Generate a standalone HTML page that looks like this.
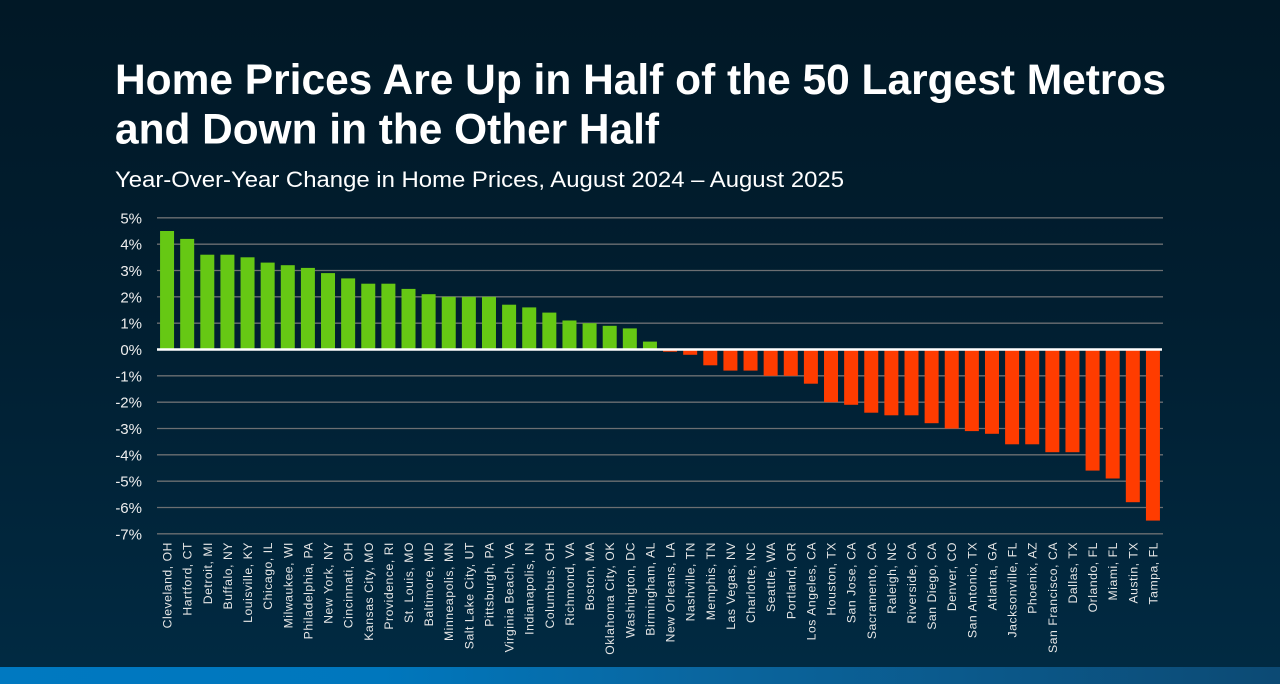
<!DOCTYPE html>
<html><head><meta charset="utf-8"><style>
html,body{margin:0;padding:0;background:#011826;}
svg{display:block;}
text{font-family:"Liberation Sans",Arial,sans-serif;}
</style></head><body>
<svg width="1280" height="684" viewBox="0 0 1280 684" xmlns="http://www.w3.org/2000/svg">
<defs>
<linearGradient id="bg" x1="0" y1="0" x2="0" y2="1">
<stop offset="0" stop-color="#011826"/><stop offset="0.45" stop-color="#011e30"/><stop offset="1" stop-color="#012a42"/>
</linearGradient>
<linearGradient id="st" x1="0" y1="0" x2="1" y2="0">
<stop offset="0" stop-color="#0079c1"/><stop offset="0.3" stop-color="#0077bd"/><stop offset="0.55" stop-color="#0a669f"/><stop offset="1" stop-color="#0c4a74"/>
</linearGradient>
</defs>
<rect x="0" y="0" width="1280" height="667" fill="url(#bg)"/>
<rect x="0" y="667" width="1280" height="17" fill="url(#st)"/>

<text x="115" y="94" font-size="42.4" font-weight="bold" fill="#ffffff" textLength="1051" lengthAdjust="spacingAndGlyphs">Home Prices Are Up in Half of the 50 Largest Metros</text>
<text x="115" y="143.5" font-size="42.4" font-weight="bold" fill="#ffffff">and Down in the Other Half</text>
<text x="115" y="187" font-size="22" fill="#ffffff" textLength="729" lengthAdjust="spacingAndGlyphs">Year-Over-Year Change in Home Prices, August 2024 – August 2025</text>

<g stroke="#6c6f72" stroke-width="1.3">
<line x1="157" x2="1163" y1="217.8" y2="217.8"/>
<line x1="157" x2="1163" y1="244.2" y2="244.2"/>
<line x1="157" x2="1163" y1="270.5" y2="270.5"/>
<line x1="157" x2="1163" y1="296.8" y2="296.8"/>
<line x1="157" x2="1163" y1="323.2" y2="323.2"/>
<line x1="157" x2="1163" y1="375.8" y2="375.8"/>
<line x1="157" x2="1163" y1="402.2" y2="402.2"/>
<line x1="157" x2="1163" y1="428.5" y2="428.5"/>
<line x1="157" x2="1163" y1="454.8" y2="454.8"/>
<line x1="157" x2="1163" y1="481.2" y2="481.2"/>
<line x1="157" x2="1163" y1="507.5" y2="507.5"/>
<line x1="157" x2="1163" y1="533.8" y2="533.8"/>
</g>

<g font-size="15" fill="#eeeeee" text-anchor="end">
<text x="142" y="223.3">5%</text>
<text x="142" y="249.7">4%</text>
<text x="142" y="276">3%</text>
<text x="142" y="302.3">2%</text>
<text x="142" y="328.7">1%</text>
<text x="142" y="355">0%</text>
<text x="142" y="381.3">-1%</text>
<text x="142" y="407.7">-2%</text>
<text x="142" y="434">-3%</text>
<text x="142" y="460.3">-4%</text>
<text x="142" y="486.7">-5%</text>
<text x="142" y="513">-6%</text>
<text x="142" y="539.3">-7%</text>
</g>

<g fill="#66c814">
<rect x="160.06" y="231.0" width="14" height="118.5"/>
<rect x="180.18" y="238.9" width="14" height="110.6"/>
<rect x="200.30" y="254.7" width="14" height="94.8"/>
<rect x="220.42" y="254.7" width="14" height="94.8"/>
<rect x="240.54" y="257.3" width="14" height="92.2"/>
<rect x="260.66" y="262.6" width="14" height="86.9"/>
<rect x="280.78" y="265.2" width="14" height="84.3"/>
<rect x="300.90" y="267.9" width="14" height="81.6"/>
<rect x="321.02" y="273.1" width="14" height="76.4"/>
<rect x="341.14" y="278.4" width="14" height="71.1"/>
<rect x="361.26" y="283.7" width="14" height="65.8"/>
<rect x="381.38" y="283.7" width="14" height="65.8"/>
<rect x="401.50" y="288.9" width="14" height="60.6"/>
<rect x="421.62" y="294.2" width="14" height="55.3"/>
<rect x="441.74" y="296.8" width="14" height="52.7"/>
<rect x="461.86" y="296.8" width="14" height="52.7"/>
<rect x="481.98" y="296.8" width="14" height="52.7"/>
<rect x="502.10" y="304.7" width="14" height="44.8"/>
<rect x="522.22" y="307.4" width="14" height="42.1"/>
<rect x="542.34" y="312.6" width="14" height="36.9"/>
<rect x="562.46" y="320.5" width="14" height="29.0"/>
<rect x="582.58" y="323.2" width="14" height="26.3"/>
<rect x="602.70" y="325.8" width="14" height="23.7"/>
<rect x="622.82" y="328.4" width="14" height="21.1"/>
<rect x="642.94" y="341.6" width="14" height="7.9"/>
</g>
<g fill="#ff3c00">
<rect x="663.06" y="349.5" width="14" height="2.2"/>
<rect x="683.18" y="349.5" width="14" height="5.3"/>
<rect x="703.30" y="349.5" width="14" height="15.8"/>
<rect x="723.42" y="349.5" width="14" height="21.1"/>
<rect x="743.54" y="349.5" width="14" height="21.1"/>
<rect x="763.66" y="349.5" width="14" height="26.3"/>
<rect x="783.78" y="349.5" width="14" height="26.3"/>
<rect x="803.90" y="349.5" width="14" height="34.2"/>
<rect x="824.02" y="349.5" width="14" height="52.7"/>
<rect x="844.14" y="349.5" width="14" height="55.3"/>
<rect x="864.26" y="349.5" width="14" height="63.2"/>
<rect x="884.38" y="349.5" width="14" height="65.8"/>
<rect x="904.50" y="349.5" width="14" height="65.8"/>
<rect x="924.62" y="349.5" width="14" height="73.7"/>
<rect x="944.74" y="349.5" width="14" height="79.0"/>
<rect x="964.86" y="349.5" width="14" height="81.6"/>
<rect x="984.98" y="349.5" width="14" height="84.3"/>
<rect x="1005.10" y="349.5" width="14" height="94.8"/>
<rect x="1025.22" y="349.5" width="14" height="94.8"/>
<rect x="1045.34" y="349.5" width="14" height="102.7"/>
<rect x="1065.46" y="349.5" width="14" height="102.7"/>
<rect x="1085.58" y="349.5" width="14" height="121.1"/>
<rect x="1105.70" y="349.5" width="14" height="129.0"/>
<rect x="1125.82" y="349.5" width="14" height="152.7"/>
<rect x="1145.94" y="349.5" width="14" height="171.1"/>
</g>
<line x1="157" x2="1162" y1="349.5" y2="349.5" stroke="#ffffff" stroke-width="2.6"/>

<g font-size="12.2" fill="#e6e6e6" text-anchor="end" letter-spacing="0.55">
<text transform="translate(171.6,542) rotate(-90)">Cleveland, OH</text>
<text transform="translate(191.7,542) rotate(-90)">Hartford, CT</text>
<text transform="translate(211.8,542) rotate(-90)">Detroit, MI</text>
<text transform="translate(231.9,542) rotate(-90)">Buffalo, NY</text>
<text transform="translate(252.0,542) rotate(-90)">Louisville, KY</text>
<text transform="translate(272.2,542) rotate(-90)">Chicago, IL</text>
<text transform="translate(292.3,542) rotate(-90)">Milwaukee, WI</text>
<text transform="translate(312.4,542) rotate(-90)">Philadelphia, PA</text>
<text transform="translate(332.5,542) rotate(-90)">New York, NY</text>
<text transform="translate(352.6,542) rotate(-90)">Cincinnati, OH</text>
<text transform="translate(372.8,542) rotate(-90)">Kansas City, MO</text>
<text transform="translate(392.9,542) rotate(-90)">Providence, RI</text>
<text transform="translate(413.0,542) rotate(-90)">St. Louis, MO</text>
<text transform="translate(433.1,542) rotate(-90)">Baltimore, MD</text>
<text transform="translate(453.2,542) rotate(-90)">Minneapolis, MN</text>
<text transform="translate(473.4,542) rotate(-90)">Salt Lake City, UT</text>
<text transform="translate(493.5,542) rotate(-90)">Pittsburgh, PA</text>
<text transform="translate(513.6,542) rotate(-90)">Virginia Beach, VA</text>
<text transform="translate(533.7,542) rotate(-90)">Indianapolis, IN</text>
<text transform="translate(553.8,542) rotate(-90)">Columbus, OH</text>
<text transform="translate(574.0,542) rotate(-90)">Richmond, VA</text>
<text transform="translate(594.1,542) rotate(-90)">Boston, MA</text>
<text transform="translate(614.2,542) rotate(-90)">Oklahoma City, OK</text>
<text transform="translate(634.3,542) rotate(-90)">Washington, DC</text>
<text transform="translate(654.4,542) rotate(-90)">Birmingham, AL</text>
<text transform="translate(674.6,542) rotate(-90)">New Orleans, LA</text>
<text transform="translate(694.7,542) rotate(-90)">Nashville, TN</text>
<text transform="translate(714.8,542) rotate(-90)">Memphis, TN</text>
<text transform="translate(734.9,542) rotate(-90)">Las Vegas, NV</text>
<text transform="translate(755.0,542) rotate(-90)">Charlotte, NC</text>
<text transform="translate(775.2,542) rotate(-90)">Seattle, WA</text>
<text transform="translate(795.3,542) rotate(-90)">Portland, OR</text>
<text transform="translate(815.4,542) rotate(-90)">Los Angeles, CA</text>
<text transform="translate(835.5,542) rotate(-90)">Houston, TX</text>
<text transform="translate(855.6,542) rotate(-90)">San Jose, CA</text>
<text transform="translate(875.8,542) rotate(-90)">Sacramento, CA</text>
<text transform="translate(895.9,542) rotate(-90)">Raleigh, NC</text>
<text transform="translate(916.0,542) rotate(-90)">Riverside, CA</text>
<text transform="translate(936.1,542) rotate(-90)">San Diego, CA</text>
<text transform="translate(956.2,542) rotate(-90)">Denver, CO</text>
<text transform="translate(976.4,542) rotate(-90)">San Antonio, TX</text>
<text transform="translate(996.5,542) rotate(-90)">Atlanta, GA</text>
<text transform="translate(1016.6,542) rotate(-90)">Jacksonville, FL</text>
<text transform="translate(1036.7,542) rotate(-90)">Phoenix, AZ</text>
<text transform="translate(1056.8,542) rotate(-90)">San Francisco, CA</text>
<text transform="translate(1077.0,542) rotate(-90)">Dallas, TX</text>
<text transform="translate(1097.1,542) rotate(-90)">Orlando, FL</text>
<text transform="translate(1117.2,542) rotate(-90)">Miami, FL</text>
<text transform="translate(1137.3,542) rotate(-90)">Austin, TX</text>
<text transform="translate(1157.4,542) rotate(-90)">Tampa, FL</text>
</g>
</svg>
</body></html>
